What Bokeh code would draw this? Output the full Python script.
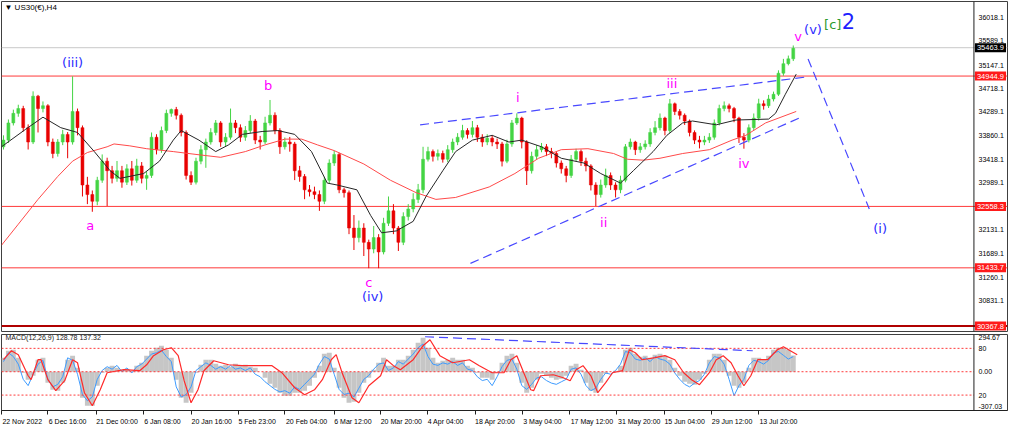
from bokeh.plotting import figure
from bokeh.models import Range1d, FixedTicker, Span, Label, ColumnDataSource
from bokeh.layouts import column
from bokeh.embed import file_html
from bokeh.resources import INLINE
from bokeh.core.properties import value

# ---------------- data ----------------
bar_step = 5          # one drawn candle per 5 H4 bars
first_open = 33650
close = [33772,34087,34262,34350,34000,33737,34577,34350,34402,33737,
         33527,33737,33877,33737,34297,34000,32950,32775,32652,33037,
         33387,33212,33072,33212,33002,33247,33037,33300,33072,33125,
         33825,33597,33947,34262,34332,34227,33912,33125,33002,33387,
         33597,33737,33912,34087,33737,33825,34087,34000,33825,33947,
         34122,33772,33737,34087,34227,33947,33650,33737,33702,33212,
         33107,32862,32827,32775,32652,33037,33352,33510,32862,32810,
         32162,31987,32162,31900,31777,31987,31725,32250,32477,32162,
         31900,32372,32512,32687,32862,33422,33562,33475,33527,33422,
         33597,33737,33825,33947,33877,34000,33825,33737,33807,33737,
         33702,33387,33702,34087,34175,33737,33212,33475,33597,33650,
         33562,33527,33352,33247,33125,33422,33562,33387,33300,32950,
         32775,32950,33125,32950,32862,33037,33650,33737,33597,33650,
         33702,33912,34000,34175,33947,34437,34297,34227,34122,33912,
         33772,33737,33772,33825,34087,34350,34402,34350,34175,33825,
         33772,34000,34175,34437,34402,34525,34612,34997,35172,35260,
         35452]
high = [33860,34150,34330,34420,34400,34060,34665,34600,34480,34430,
        33800,33790,33960,33920,34940,34350,34040,33100,32850,33100,
        33510,33450,33300,33390,33300,33330,33390,33430,33370,33200,
        33912,33880,34020,34330,34350,34380,34260,33950,33200,33450,
        33680,33800,33990,34140,34120,33900,34350,34140,34060,34030,
        34230,34160,33850,34200,34507,34280,33990,33820,33830,33740,
        33300,33150,32950,32920,32850,33100,33420,33580,33540,32900,
        32850,32400,32300,32250,31950,32200,32050,32350,32740,32600,
        32200,32450,32600,32800,32970,33650,33650,33600,33600,33580,
        33680,33800,33900,34052,33990,34122,34050,33880,33880,33860,
        33800,33740,33780,34140,34262,34200,33770,33560,33680,33720,
        33700,33630,33560,33400,33300,33500,33615,33600,33450,33330,
        33000,33050,33250,33180,33000,33120,33700,33800,33760,33720,
        33770,33990,34120,34260,34200,34525,34460,34340,34260,34150,
        33950,33850,33850,33900,34150,34420,34480,34440,34380,34200,
        33900,34060,34260,34530,34500,34600,34660,35050,35260,35320,
        35505]
low = [33600,33720,34040,34200,33930,33600,33700,33912,34280,33660,
       33440,33470,33680,33440,33690,33860,32740,32600,32460,32580,
       32990,32565,32980,33010,32900,32950,32940,32990,32980,32862,
       33080,33510,33540,33900,34200,34150,33840,33050,32950,32960,
       33330,33265,33690,33860,33650,33650,33780,33900,33740,33760,
       33900,33700,33600,33700,34040,33880,33520,33600,33560,33040,
       33010,32690,32740,32690,32477,32600,32980,33300,32800,32720,
       32050,31760,31900,31650,31427,31700,31427,31680,32200,32050,
       31742,31850,32300,32450,32620,32800,33380,33380,33400,33360,
       33370,33540,33680,33780,33800,33820,33740,33650,33680,33660,
       33610,33290,33350,33650,34050,33620,32950,33160,33420,33550,
       33480,33440,33270,33160,33000,33080,33380,33300,33200,32850,
       32565,32720,32900,32860,32722,32800,33000,33600,33500,33540,
       33600,33650,33860,33950,33860,33900,34230,34150,34050,33840,
       33700,33620,33680,33720,33780,34040,34300,34280,34100,33720,
       33615,33730,33950,34130,34330,34360,34480,34580,34950,35140,
       35220]

# moving averages (bar, price)
ma_fast_bar = [3,27,45,63,80,97,113,123,147,163,177,185,203,220,233,247,267,283,300,317,
               333,343,363,377,388,403,420,433,450,463,480,500,517,530,550,570,593,610,630,
               643,663,677,693,703,727,747,780,787,797,808]
ma_fast = [33650,33965,34192,34000,33912,33562,33212,33072,33160,33387,33772,33947,33772,
           33562,33685,33877,33930,33947,33877,33562,32985,32950,32862,32390,32075,32110,
           32285,32740,33212,33562,33772,33860,33737,33772,33650,33440,33352,33160,32985,
           33212,33562,33860,34087,34122,34052,34140,34157,34262,34612,34980]
ma_slow_bar = [3,20,40,60,75,90,110,117,133,150,177,200,225,250,270,290,307,323,340,370,
               397,423,443,463,497,523,547,570,597,623,637,653,670,693,720,743,757,777,808]
ma_slow = [31847,32232,32687,33107,33387,33545,33650,33702,33667,33615,33562,33510,33457,
           33562,33685,33790,33790,33685,33580,33335,33037,32810,32687,32722,32915,33160,
           33440,33597,33615,33527,33422,33405,33440,33527,33597,33772,33860,34087,34297]

# price levels
level_prices = [34944.9, 32558.3, 31433.7]
bottom_level = 30367.8
bid_price = 35463.9
price_ticks = [36018.1, 35589.1, 35147.1, 34718.1, 34289.1, 33860.1, 33418.1, 32989.1,
               32131.1, 31689.1, 31260.1, 30831.1]

# wave trend lines (bar, price)
upper_wedge_bar = [427, 818]
upper_wedge = [34052, 34927]
lower_wedge_bar = [478, 813]
lower_wedge = [31515, 34192]
projection_bar = [820, 882]
projection = [35259, 32512]

# Elliott wave labels
wave_text = ["(iii)", "b", "a", "c", "(iv)", "i", "ii", "iii", "iv", "v", "(v)", "[c]", "2", "(i)"]
wave_bar = [75, 273, 93, 375, 379, 526, 613, 682, 755, 810, 825, 845, 861, 893]
wave_price = [35190, 34770, 32214, 31165, 30902, 34560, 32267, 34805, 33335, 35662, 35802,
              35890, 35960, 32162]
wave_color = ["#2b2bff", "#ff00ff", "#ff00ff", "#ff00ff", "#2b2bff", "#ff00ff", "#ff00ff",
              "#ff00ff", "#ff00ff", "#ff00ff", "#2b2bff", "#2e9a2e", "#1f1fff", "#2b2bff"]
wave_size = ["13px"] * 12 + ["21px", "13px"]

# MACD panel
macd_hist = [111,166,174,111,-8,-63,-32,95,111,-87,
             -143,-150,-87,95,127,32,-206,-269,-269,-111,
             -8,32,48,32,16,24,8,48,71,127,
             166,190,206,174,111,-63,-206,-246,-166,-8,
             55,95,95,63,48,55,40,63,48,55,
             40,32,0,-48,-95,-127,-166,-190,-190,-166,
             -166,-150,-111,-48,48,143,150,32,-127,-206,
             -246,-238,-166,-87,-48,16,71,111,48,48,
             95,95,127,174,230,269,190,111,71,87,
             95,111,95,95,48,32,-8,-48,-48,-63,
             -8,71,127,143,71,-87,-166,-127,-63,-16,
             -32,-48,-63,-55,-32,48,63,16,-87,-150,
             -166,-87,-16,0,8,48,174,190,143,119,
             127,111,135,143,127,95,32,-32,-79,-95,
             -103,-63,-16,95,143,143,95,-32,-111,-127,
             -87,32,111,111,95,127,174,190,190,174,
             129]
macd_fast = [80,150,120,60,-60,-110,-20,60,90,-60,
             -120,-100,-40,110,90,-20,-180,-230,-200,-60,
             10,40,20,50,0,30,-10,40,60,100,
             140,150,170,120,80,-120,-200,-180,-120,10,
             40,70,50,20,40,20,50,20,30,10,
             30,-20,-40,-80,-110,-140,-160,-150,-170,-120,
             -140,-100,-60,-20,60,120,100,-20,-140,-180,
             -170,-200,-130,-60,-30,20,60,70,10,30,
             80,60,100,140,190,220,120,60,50,70,
             60,80,50,70,20,10,-40,-70,-60,-110,
             -40,40,90,100,20,-110,-140,-100,-50,-40,
             -70,-90,-100,-80,-60,20,30,-20,-110,-150,
             -130,-60,-10,-20,10,60,160,150,100,90,
             110,80,120,100,90,60,-10,-60,-100,-120,
             -90,-70,-20,70,120,110,60,-60,-190,-110,
             -60,50,90,80,60,90,150,160,130,100,
             120]
signal_bar = [5,13,20,30,33,40,43,50,58,67,75,80,87,95,103,110,127,143,150,157,167,175,182,
              188,195,202,208,218,233,247,260,277,287,300,310,320,328,337,342,348,358,365,
              375,387,393,400,407,420,430,437,447,460,477,487,500,512,519,525,532,539,542,
              549,562,572,579,585,592,600,607,615,622,632,639,645,652,665,675,685,694,702,
              710,720,727,734,742,749,755,762,769,779,789,795,802,809]
signal = [95,166,135,-32,-63,95,95,-63,-150,-71,95,71,-166,-269,-143,-8,16,8,55,127,174,190,
          127,-71,-246,-143,8,87,55,48,48,48,-8,-127,-182,-143,-63,95,135,-8,-206,-246,
          -111,-32,95,48,16,95,206,253,127,71,95,48,-8,-8,95,127,-8,-143,-150,-32,-24,-48,
          -71,16,48,-32,-166,-87,-8,8,174,150,95,111,127,95,-8,-63,-103,-8,95,127,71,-32,
          -111,-32,95,95,174,198,166,135]
macd_levels = [185, 0, -185]
macd_tick_pos = [269, 185, 0, -185, -277]
macd_tick_text = ["294.67", "80", "0.00", "20", "-307.03"]
macd_div_bar = [432, 764]
macd_div = [277, 166]

date_ticks = [3, 50, 99, 147, 195, 243, 290, 340, 387, 434, 483, 531, 578, 626, 675, 722, 770]
date_label_mid = [24, 70, 120, 166, 216, 262, 312, 359, 408, 453, 503, 551, 601, 649, 695,
                  743, 790]
date_labels = ["22 Nov 2022", "6 Dec 16:00", "21 Dec 00:00", "6 Jan 08:00", "20 Jan 16:00",
               "5 Feb 23:00", "20 Feb 04:00", "6 Mar 12:00", "20 Mar 20:00", "4 Apr 04:00",
               "18 Apr 20:00", "3 May 04:00", "17 May 12:00", "31 May 20:00", "15 Jun 04:00",
               "29 Jun 12:00", "13 Jul 20:00"]

# ---------------- build ----------------
GREEN = "#44d444"
RED = "#e80000"
FW = 1006
X_START, X_END = 3, 1022      # chart window in bar units (price scale on the right)
SCALE_X = 988                  # where the price scale begins
LABEL_STANDOFF = -29
AXF = "Liberation Sans"

bars = [bar_step * (i + 1) for i in range(len(close))]
opens = [first_open] + close[:-1]
src = ColumnDataSource(dict(
    x=bars, h=high, l=low,
    top=[max(o, c) for o, c in zip(opens, close)],
    bottom=[min(o, c) for o, c in zip(opens, close)],
    color=[GREEN if c >= o else RED for o, c in zip(opens, close)],
))


def style_right_axis(ax):
    ax.major_label_text_font_size = "7px"
    ax.major_label_text_font = AXF
    ax.major_label_text_color = "black"
    ax.major_tick_out = 0
    ax.major_tick_in = 0
    ax.minor_tick_out = 0
    ax.minor_tick_in = 0
    ax.major_label_standoff = LABEL_STANDOFF
    ax.axis_line_color = None


p = figure(frame_width=FW, frame_height=330, x_range=Range1d(X_START, X_END),
           y_range=Range1d(30268, 36310), output_backend="svg", toolbar_location=None,
           x_axis_location=None, y_axis_location="right",
           min_border_left=1, min_border_right=1, min_border_top=1, min_border_bottom=2,
           background_fill_color="white", border_fill_color="white",
           outline_line_color="#404040")
p.grid.visible = False
ya = p.yaxis[0]
ya.ticker = FixedTicker(ticks=price_ticks)
ya.major_label_overrides = {t: f"{t:.1f}" for t in price_ticks}
style_right_axis(ya)

for lv in level_prices:
    p.add_layout(Span(location=lv, dimension="width", line_color="#ff3a3a",
                      line_width=1, level="underlay"))
p.add_layout(Span(location=bottom_level, dimension="width", line_color="#b00000",
                  line_width=2, level="underlay"))
p.add_layout(Span(location=bid_price, dimension="width", line_color="#c8c8c8",
                  line_width=1, level="underlay"))
p.add_layout(Span(location=SCALE_X, dimension="height", line_color="#202020", line_width=1))

p.segment(x0="x", y0="h", x1="x", y1="l", line_color="color", line_width=1, source=src)
p.vbar(x="x", width=3, top="top", bottom="bottom", fill_color="color",
       line_color="color", line_width=0.5, source=src)

p.line(ma_slow_bar, ma_slow, line_color="#ff4a4a", line_width=1)
p.line(ma_fast_bar, ma_fast, line_color="#262626", line_width=1)

for bx, by in ((upper_wedge_bar, upper_wedge), (lower_wedge_bar, lower_wedge),
               (projection_bar, projection)):
    p.line(bx, by, line_color="#4848ff", line_width=1.2, line_dash="9 5")

wsrc = ColumnDataSource(dict(x=wave_bar, y=wave_price, t=wave_text, c=wave_color, s=wave_size))
p.text(x="x", y="y", text="t", text_color="c", text_font_size="s",
       text_font=value("DejaVu Sans"), text_align="center", text_baseline="middle",
       source=wsrc)

p.add_layout(Label(x=6, y=36204, text="\u25bc US30(\u20ac),H4", text_font_size="8px",
                   text_font=AXF, text_color="black", text_baseline="middle"))

# price boxes on the price scale
p.add_layout(Label(x=SCALE_X + 1, y=bid_price, text=f"{bid_price:.1f}",
                   text_font_size="7.5px", text_font=AXF, text_color="white",
                   text_baseline="middle", background_fill_color="black", padding=2))
for lv in level_prices + [bottom_level]:
    p.add_layout(Label(x=SCALE_X + 1, y=lv, text=f"{lv:.1f}", text_font_size="7.5px",
                       text_font=AXF, text_color="white", text_baseline="middle",
                       background_fill_color="#ff1a1a", padding=2))

# ---- MACD panel ----
q = figure(frame_width=FW, frame_height=76, x_range=p.x_range,
           y_range=Range1d(-307.03, 294.67), output_backend="svg", toolbar_location=None,
           y_axis_location="right",
           min_border_left=1, min_border_right=1, min_border_top=1, min_border_bottom=0,
           background_fill_color="white", border_fill_color="white",
           outline_line_color="#404040")
q.grid.visible = False
q.vbar(x=bars, width=bar_step, top=macd_hist, bottom=0, fill_color="#c6c6c6",
       line_color=None)
q.line(bars, macd_fast, line_color="#3d9bff", line_width=1)
q.line(signal_bar, signal, line_color="#ff2a2a", line_width=1.2)
q.segment(x0=[X_START] * len(macd_levels), x1=[SCALE_X] * len(macd_levels),
          y0=macd_levels, y1=macd_levels, line_color="#ff3a3a", line_width=1,
          line_dash="2 2")
q.line(macd_div_bar, macd_div, line_color="#4848ff", line_width=1.2, line_dash="9 5")
q.add_layout(Span(location=SCALE_X, dimension="height", line_color="#202020", line_width=1))
q.add_layout(Label(x=7, y=269, text="MACD(12,26,9) 128.78 137.32", text_font_size="7px",
                   text_font=AXF, text_color="#202020", text_baseline="middle"))

qa = q.yaxis[0]
qa.ticker = FixedTicker(ticks=macd_tick_pos)
qa.major_label_overrides = dict(zip(macd_tick_pos, macd_tick_text))
style_right_axis(qa)

xa = q.xaxis[0]
xa.ticker = FixedTicker(ticks=date_label_mid, minor_ticks=date_ticks)
xa.major_label_overrides = dict(zip(date_label_mid, date_labels))
xa.major_label_text_font_size = "7px"
xa.major_label_text_font = AXF
xa.major_label_text_color = "black"
xa.major_tick_out = 0
xa.major_tick_in = 0
xa.minor_tick_out = 4
xa.minor_tick_in = 0
xa.minor_tick_line_color = "#202020"
xa.major_label_standoff = 3
xa.axis_line_color = "#202020"

layout = column(p, q, spacing=0)
open("out.html", "w").write(file_html(layout, INLINE))
